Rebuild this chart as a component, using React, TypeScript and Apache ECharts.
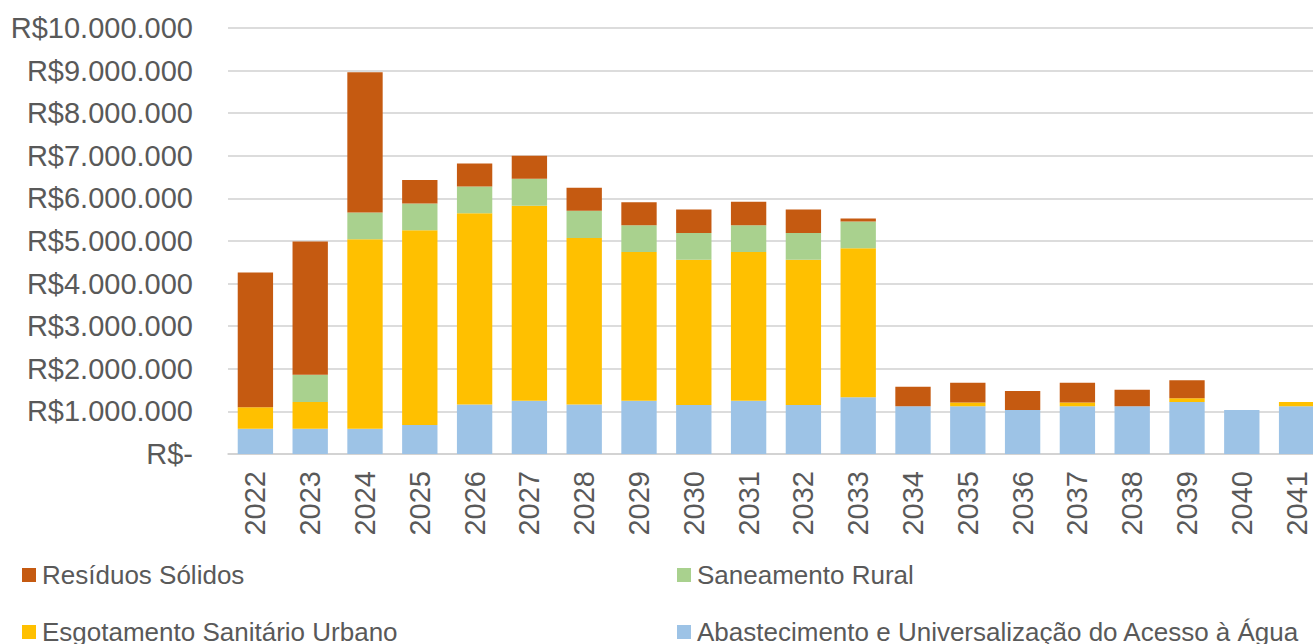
import React, { useEffect, useRef } from "react";
import * as echarts from "echarts";

const years = ["2022","2023","2024","2025","2026","2027","2028","2029","2030","2031","2032","2033","2034","2035","2036","2037","2038","2039","2040","2041"];

const abastecimento = [590000,590000,590000,680000,1160000,1250000,1160000,1250000,1150000,1250000,1150000,1330000,1120000,1120000,1030000,1120000,1120000,1220000,1030000,1120000];
const esgotamento = [510000,630000,4450000,4570000,4490000,4580000,3910000,3490000,3410000,3490000,3410000,3500000,0,90000,0,90000,0,90000,0,100000];
const saneamentoRural = [0,640000,630000,630000,630000,630000,640000,630000,630000,630000,630000,630000,0,0,0,0,0,0,0,0];
const residuos = [3160000,3130000,3290000,550000,540000,540000,540000,540000,550000,550000,550000,70000,460000,460000,450000,460000,390000,420000,0,0];

const yTicks = { min: 0, max: 10000000, interval: 1000000 };

const FONT = "'Liberation Sans', Arial, sans-serif";
const TXT = "#595959";

function fmt(v: number): string {
  if (v === 0) return "R$-";
  return "R$" + String(Math.round(v)).replace(/\B(?=(\d{3})+(?!\d))/g, ".");
}

export default function App() {
  const ref = useRef<HTMLDivElement>(null);
  useEffect(() => {
    if (!ref.current) return;
    const chart = echarts.init(ref.current, null, { renderer: "svg" });
    const legendText = { fontFamily: FONT, fontSize: 26, color: TXT, lineHeight: 30, padding: [0, 0, 0, 1] };
    chart.setOption({
      animation: false,
      backgroundColor: "#fff",
      grid: { left: 228, top: 28, width: 1096, height: 426, containLabel: false },
      legend: [
        {
          left: 17, top: 555, orient: "vertical", itemGap: 27, itemWidth: 14, itemHeight: 14,
          icon: "rect", textStyle: legendText,
          data: ["Resíduos Sólidos", "Esgotamento Sanitário Urbano"],
        },
        {
          left: 672, top: 555, orient: "vertical", itemGap: 27, itemWidth: 14, itemHeight: 14,
          icon: "rect", textStyle: legendText,
          data: ["Saneamento Rural", "Abastecimento e Universalização do Acesso à Água"],
        },
      ],
      xAxis: {
        type: "category",
        data: years,
        axisLine: { lineStyle: { color: "#d0d0d0", width: 1.5 } },
        axisTick: { show: false },
        axisLabel: { rotate: 90, margin: 17, fontFamily: FONT, fontSize: 29, color: TXT },
      },
      yAxis: {
        type: "value",
        min: yTicks.min, max: yTicks.max, interval: yTicks.interval,
        axisLine: { show: false },
        axisTick: { show: false },
        splitLine: { lineStyle: { color: "#d0d0d0", width: 1.5 } },
        axisLabel: { margin: 35, fontFamily: FONT, fontSize: 29, color: TXT, formatter: fmt },
      },
      series: [
        { name: "Abastecimento e Universalização do Acesso à Água", type: "bar", stack: "t", data: abastecimento, itemStyle: { color: "#9DC3E6" }, barWidth: "64.5%" },
        { name: "Esgotamento Sanitário Urbano", type: "bar", stack: "t", data: esgotamento, itemStyle: { color: "#FFC000" } },
        { name: "Saneamento Rural", type: "bar", stack: "t", data: saneamentoRural, itemStyle: { color: "#A9D18E" } },
        { name: "Resíduos Sólidos", type: "bar", stack: "t", data: residuos, itemStyle: { color: "#C55A11" } },
      ],
    });
    return () => chart.dispose();
  }, []);
  return <div ref={ref} style={{ position: "fixed", left: 0, top: 0, width: 1340, height: 700 }} />;
}
